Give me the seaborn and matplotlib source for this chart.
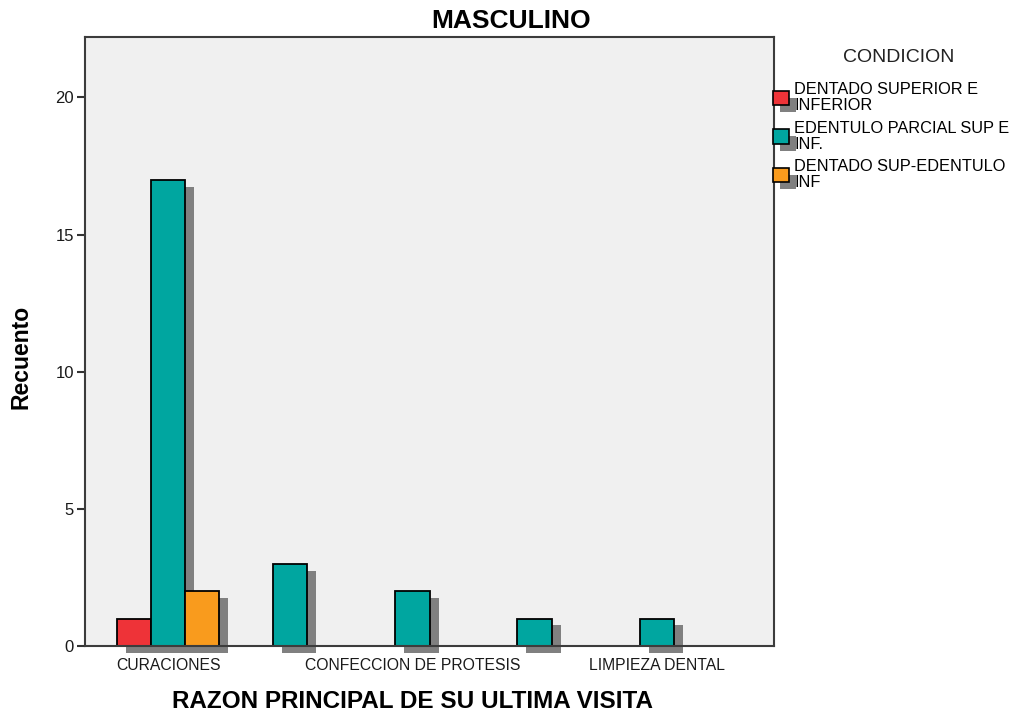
import pandas as pd
import matplotlib
matplotlib.use("Agg")
import matplotlib.pyplot as plt
import matplotlib.patheffects as pe
from matplotlib.patches import Patch
import seaborn as sns

# --- Datos ---
razon_labels = ["CURACIONES", "", "CONFECCION DE PROTESIS", "", "LIMPIEZA DENTAL"]
condiciones = ["DENTADO SUPERIOR E\nINFERIOR",
               "EDENTULO PARCIAL SUP E\nINF.",
               "DENTADO SUP-EDENTULO\nINF"]
colores = ["#ee3338", "#00a6a0", "#f99b1d"]

razon_idx = [0, 0, 0, 1, 2, 3, 4]
condicion_idx = [0, 1, 2, 1, 1, 1, 1]
recuento = [1, 17, 2, 3, 2, 1, 1]

df = pd.DataFrame({
    "razon": razon_idx,
    "condicion": [condiciones[i] for i in condicion_idx],
    "recuento": recuento,
})

sns.set_style("white")
plt.rcParams["font.family"] = ["Liberation Sans", "DejaVu Sans"]
plt.rcParams["text.color"] = "black"

fig = plt.figure(figsize=(10.23, 7.16), dpi=100)
ax = fig.add_axes([0.0831, 0.0978, 0.6735, 0.8505])
ax.set_facecolor("#f0f0f0")

sns.barplot(data=df, x="razon", y="recuento", hue="condicion",
            order=list(range(len(razon_labels))), hue_order=condiciones,
            palette=colores, saturation=1, width=0.84, gap=0, errorbar=None,
            edgecolor="black", linewidth=1.3, legend=False, ax=ax)

# sombra gris tipo SPSS
sombra = [pe.SimplePatchShadow(offset=(6.5, -5), shadow_rgbFace="#808080", alpha=1.0),
          pe.Normal()]
for p in ax.patches:
    p.set_path_effects(sombra)
    p.set_clip_on(False)

ax.set_xlim(-0.68, 4.96)
ax.set_ylim(0, 22.2)
ax.set_yticks([0, 5, 10, 15, 20])
ax.set_xticks([0, 2, 4])
ax.set_xticklabels([razon_labels[i] for i in [0, 2, 4]], fontsize=11.3, color="#1a1a1a")
ax.tick_params(axis="y", labelsize=12, labelcolor="#1a1a1a", length=6, width=1.5,
               color="#333333", pad=2, left=True)
ax.tick_params(axis="x", length=3, width=1.2, color="#333333", pad=6, bottom=True)

for s in ax.spines.values():
    s.set_visible(True)
    s.set_color("#3c3c3c")
    s.set_linewidth(1.5)

ax.set_xlabel("RAZON PRINCIPAL DE SU ULTIMA VISITA", fontsize=17.5, fontweight="bold", color="black")
ax.xaxis.set_label_coords(0.476, -0.072)
ax.set_ylabel("Recuento", fontsize=16.5, fontweight="bold", color="black")
ax.yaxis.set_label_coords(-0.0755, 0.4745)

fig.text(0.5, 0.9707, "MASCULINO", ha="center", va="center", fontsize=19, fontweight="bold")

# leyenda
fig.text(0.878, 1 - 58 / 716, "CONDICION", ha="center", va="center", fontsize=14, color="#222222")
handles = [Patch(facecolor=c, edgecolor="black", linewidth=1.2,
                 path_effects=[pe.SimplePatchShadow(offset=(5, -5), shadow_rgbFace="#808080", alpha=1.0),
                               pe.Normal()])
           for c in colores]
leg = ax.legend(handles, condiciones, loc="upper left", bbox_to_anchor=(773 / 1023, 1 - 82 / 716),
                bbox_transform=fig.transFigure, frameon=False, borderpad=0, borderaxespad=0,
                fontsize=11.8, handlelength=1.0, handleheight=1.0, handletextpad=0.3,
                labelspacing=0.45)
for t in leg.get_texts():
    t.set_linespacing(1.1)
    t.set_color("black")

fig.savefig("out.png", dpi=100)
